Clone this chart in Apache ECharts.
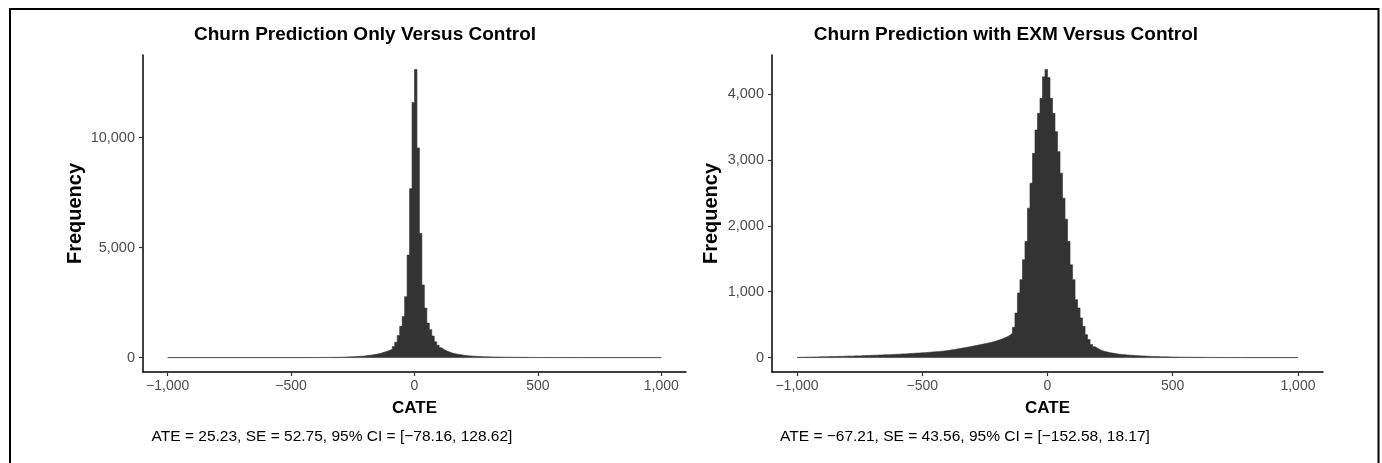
<!DOCTYPE html>
<html><head><meta charset="utf-8">
<script src="https://cdn.jsdelivr.net/npm/echarts@6/dist/echarts.min.js"></script>
<style>html,body{margin:0;padding:0;background:#fff}#c{width:1382px;height:463px}</style>
</head><body><div id="c"></div>
<script>
// ---- data ----
const binStart = -1000;
const binWidth = 10;
const baselineRange = [-1000, 1000];
const leftCounts = [
  0,0,0,0,0,0,0,0,0,0,
  0,0,0,0,0,0,0,0,0,0,
  0,0,0,0,0,0,0,0,0,0,
  0,0,0,0,0,0,0,0,0,0,
  0,0,0,0,0,0,0,0,0,0,
  1,1,1,2,2,2,3,3,4,4,
  5,6,6,7,8,9,10,12,14,17,
  20,24,28,33,38,44,50,57,65,74,
  95,108,122,140,160,185,215,250,290,330,
  380,500,700,1000,1420,1870,2770,4660,7680,11600,
  13100,9530,5640,3300,2250,1570,1270,980,720,560,
  450,370,310,260,220,190,165,145,125,110,
  90,80,72,65,58,52,47,42,38,35,
  32,29,27,25,23,21,19,18,17,16,
  14,13,12,11,10,9,8,8,7,7,
  6,6,5,5,5,4,4,4,3,3,
  3,3,2,2,2,2,2,2,1,1,
  1,1,1,1,1,1,1,1,1,1,
  1,1,1,1,1,1,0,0,0,0,
  0,0,0,0,0,0,0,0,0,0
];
const rightCounts = [
  4,6,5,8,7,9,10,9,11,12,
  13,12,15,16,15,18,19,18,21,22,
  23,22,25,27,26,29,30,31,33,34,
  36,37,39,40,42,43,45,47,48,50,
  52,55,56,58,61,63,66,68,70,73,
  75,78,81,84,87,90,94,97,101,106,
  112,118,124,130,137,144,151,158,165,172,
  180,187,194,202,210,218,226,235,245,258,
  270,285,300,318,340,370,460,677,980,1182,
  1485,1762,2268,2646,3100,3455,3707,3935,4262,4374,
  4250,3935,3707,3429,3126,2798,2420,2101,1762,1409,
  1182,879,753,601,474,348,273,197,165,140,
  120,105,93,83,75,68,62,56,51,47,
  43,40,37,34,31,29,27,25,23,21,
  19,18,16,15,14,13,12,11,10,9,
  8,8,7,7,6,6,5,5,5,4,
  4,4,3,3,3,3,2,2,2,2,
  2,1,1,1,1,1,1,1,0,0,
  0,0,0,0,0,0,0,0,0,0,
  0,0,0,0,0,0,0,0,0,0
];
const xTickValues = [-1000, -500, 0, 500, 1000];
const xTickLabels = ['\u22121,000', '\u2212500', '0', '500', '1,000'];
const leftYTickValues = [0, 5000, 10000];
const leftYTickLabels = ['0', '5,000', '10,000'];
const rightYTickValues = [0, 1000, 2000, 3000, 4000];
const rightYTickLabels = ['0', '1,000', '2,000', '3,000', '4,000'];
const titles = ['Churn Prediction Only Versus Control', 'Churn Prediction with EXM Versus Control'];
const captions = ['ATE = 25.23, SE = 52.75, 95% CI = [\u221278.16, 128.62]', 'ATE = \u221267.21, SE = 43.56, 95% CI = [\u2212152.58, 18.17]'];
const xName = 'CATE';
const yName = 'Frequency';

// ---- chart ----
const FONT = '"Liberation Sans", Arial, Helvetica, sans-serif';
const chart = echarts.init(document.getElementById('c'), null, {renderer: 'canvas'});

// step points: left edge of each bin, plus closing right edge of the last bin
function toSteps(counts) {
  const pts = counts.map((c, i) => [binStart + i * binWidth, c]);
  pts.push([binStart + counts.length * binWidth, counts[counts.length - 1]]);
  return pts;
}
function xAxisFor(gi) {
  return {
    gridIndex: gi, type: 'value', min: -1100, max: 1100,
    axisLine: {show: true, onZero: false, lineStyle: {color: '#000', width: 1.5}},
    axisTick: {show: true, customValues: xTickValues, length: 4, lineStyle: {color: '#333', width: 1.2}},
    axisLabel: {customValues: xTickValues, formatter: v => xTickLabels[xTickValues.indexOf(v)],
                color: '#4d4d4d', fontSize: 14, fontFamily: FONT, margin: 7},
    splitLine: {show: false},
    name: xName, nameLocation: 'middle', nameGap: 28,
    nameTextStyle: {fontSize: 17, fontWeight: 'bold', color: '#000', fontFamily: FONT}
  };
}
function yAxisFor(gi, counts, vals, labels, gap) {
  const mx = Math.max(...counts);
  return {
    gridIndex: gi, type: 'value', min: -0.05 * mx, max: 1.05 * mx,
    axisLine: {show: true, onZero: false, lineStyle: {color: '#000', width: 1.5}},
    axisTick: {show: true, customValues: vals, length: 4, lineStyle: {color: '#333', width: 1.2}},
    axisLabel: {customValues: vals, formatter: v => labels[vals.indexOf(v)],
                color: '#4d4d4d', fontSize: 14.5, fontFamily: FONT, margin: 8},
    splitLine: {show: false},
    name: yName, nameLocation: 'middle', nameGap: gap, nameRotate: 90,
    nameTextStyle: {fontSize: 20, fontWeight: 'bold', color: '#000', fontFamily: FONT}
  };
}
function baseline(gi) {
  return {type: 'line', xAxisIndex: gi, yAxisIndex: gi, data: [[baselineRange[0], 0], [baselineRange[1], 0]],
          symbol: 'none', silent: true, z: 1, lineStyle: {color: '#8a8a8a', width: 1}};
}
function hist(gi, counts) {
  return {type: 'line', xAxisIndex: gi, yAxisIndex: gi, data: toSteps(counts), step: 'end',
          symbol: 'none', silent: true, z: 2, color: '#333333',
          lineStyle: {width: 0.6, color: '#333333'},
          areaStyle: {color: '#333333', opacity: 1, origin: 0}};
}
function txt(t, x, y, font) {
  return {type: 'text', x: x, y: y, silent: true,
          style: {text: t, font: font, fill: '#000', textAlign: 'center', textVerticalAlign: 'middle',
                  align: 'center', verticalAlign: 'middle'}};
}
chart.setOption({
  animation: false,
  backgroundColor: '#fff',
  grid: [
    {left: 143, right: 1382 - 686, top: 55, bottom: 463 - 372},
    {left: 772, right: 1382 - 1323, top: 55, bottom: 463 - 372}
  ],
  xAxis: [xAxisFor(0), xAxisFor(1)],
  yAxis: [yAxisFor(0, leftCounts, leftYTickValues, leftYTickLabels, 58),
          yAxisFor(1, rightCounts, rightYTickValues, rightYTickLabels, 51)],
  series: [hist(0, leftCounts), baseline(0), hist(1, rightCounts), baseline(1)],
  graphic: [
    {type: 'rect', silent: true, shape: {x: 10, y: 9, width: 1368.5, height: 600},
     style: {fill: 'none', stroke: '#000', lineWidth: 2}},
    txt(titles[0], 365, 35, 'bold 19px ' + FONT),
    txt(titles[1], 1006, 35, 'bold 19px ' + FONT),
    txt(captions[0], 332, 437, '15.5px ' + FONT),
    txt(captions[1], 965, 437, '15.5px ' + FONT)
  ]
});
</script></body></html>
